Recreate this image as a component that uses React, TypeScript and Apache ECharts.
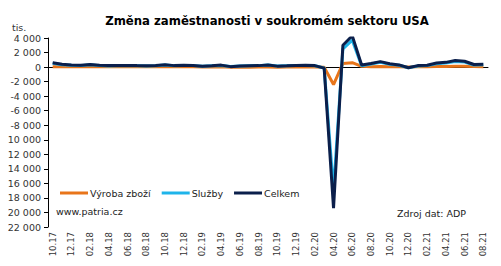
import React, { useEffect, useRef } from "react";
import * as echarts from "echarts";

const months = [
  "10.17","11.17","12.17","01.18","02.18","03.18","04.18","05.18","06.18","07.18","08.18","09.18",
  "10.18","11.18","12.18","01.19","02.19","03.19","04.19","05.19","06.19","07.19","08.19","09.19",
  "10.19","11.19","12.19","01.20","02.20","03.20","04.20","05.20","06.20","07.20","08.20","09.20",
  "10.20","11.20","12.20","01.21","02.21","03.21","04.21","05.21","06.21","07.21","08.21",
];

const goods = [
  60, 50, 60, 50, 60, 50, 40, 50, 40, 30, 40, 50,
  60, 30, 50, 30, 10, 20, 40, -20, 0, -10, 0, 10,
  -10, 0, 20, 30, 20, -30, -2400, 500, 600, 100, 50, 80,
  60, 40, 0, 40, 50, 80, 90, 120, 100, 70, 60,
];

const services = [
  540, 330, 240, 200, 310, 200, 160, 180, 180, 170, 150, 180,
  270, 170, 210, 200, 110, 170, 230, 80, 150, 190, 200, 290,
  140, 170, 200, 220, 180, -120, -17000, 2500, 3700, 180, 430, 670,
  390, 260, -100, 160, 200, 470, 560, 780, 700, 280, 320,
];

const total = [
  600, 380, 300, 250, 370, 250, 200, 230, 220, 200, 190, 230,
  330, 200, 260, 230, 120, 190, 270, 60, 150, 180, 200, 300,
  130, 170, 220, 250, 200, -150, -19400, 3000, 4300, 280, 480, 750,
  450, 300, -100, 200, 250, 550, 650, 900, 800, 350, 380,
];

const seriesNames = ["Výroba zboží", "Služby", "Celkem"];
const colors = ["#e8751a", "#1eb4ea", "#0b1f4b"];

const FONT = "DejaVu Sans";

function fmt(v: number): string {
  const s = Math.abs(v).toString().replace(/\B(?=(\d{3})+(?!\d))/g, " ");
  return (v < 0 ? "-" : "") + s;
}

export default function App() {
  const ref = useRef<HTMLDivElement>(null);
  useEffect(() => {
    if (!ref.current) return;
    const chart = echarts.init(ref.current, undefined, { renderer: "svg" });
    const data = [goods, services, total];
    chart.setOption({
      animation: false,
      backgroundColor: "#ffffff",
      textStyle: { fontFamily: FONT },
      title: {
        text: "Změna zaměstnanosti v soukromém sektoru USA",
        left: 262,
        textAlign: "center",
        top: 10,
        textStyle: { fontFamily: FONT, fontSize: 11.7, fontWeight: "bold", color: "#000" },
      },
      legend: {
        left: 55,
        top: 183,
        icon: "rect",
        itemWidth: 28,
        itemHeight: 3,
        itemGap: 11,
        textStyle: { fontFamily: FONT, fontSize: 9.5, color: "#222", padding: [0, 0, 0, -3] },
        data: seriesNames,
      },
      grid: { left: 48, right: 13, top: 38, bottom: 39, containLabel: false },
      xAxis: {
        type: "category",
        data: months,
        boundaryGap: true,
        axisLine: { lineStyle: { color: "#000", width: 1 } },
        axisTick: { interval: 1, length: 4, lineStyle: { color: "#000" } },
        axisLabel: {
          interval: 1,
          rotate: 90,
          fontFamily: FONT,
          fontSize: 8.5,
          color: "#333",
          margin: 5,
        },
      },
      yAxis: {
        type: "value",
        min: -22000,
        max: 4000,
        interval: 2000,
        splitLine: { show: false },
        axisLine: { show: true, lineStyle: { color: "#000", width: 1 } },
        axisTick: { show: true, length: 4, lineStyle: { color: "#000" } },
        axisLabel: {
          fontFamily: FONT,
          fontSize: 9.5,
          color: "#333",
          margin: 7,
          formatter: (v: number) => fmt(v),
        },
      },
      graphic: [
        {
          type: "text",
          left: 12,
          top: 22,
          style: { text: "tis.", fontFamily: FONT, fontSize: 9.5, fill: "#333" },
        },
        {
          type: "text",
          left: 56,
          top: 206,
          style: { text: "www.patria.cz", fontFamily: FONT, fontSize: 9.5, fill: "#222" },
        },
        {
          type: "text",
          right: 35,
          top: 208,
          style: { text: "Zdroj dat: ADP", fontFamily: FONT, fontSize: 9.5, fill: "#222" },
        },
      ],
      series: seriesNames.map((name, i) => ({
        name,
        type: "line",
        data: data[i],
        showSymbol: false,
        symbol: "none",
        color: colors[i],
        lineStyle: { color: colors[i], width: 3 },
        z: i + 2,
      })),
    });
    return () => chart.dispose();
  }, []);
  return <div ref={ref} style={{ width: 501, height: 266, margin: -8 }} />;
}
